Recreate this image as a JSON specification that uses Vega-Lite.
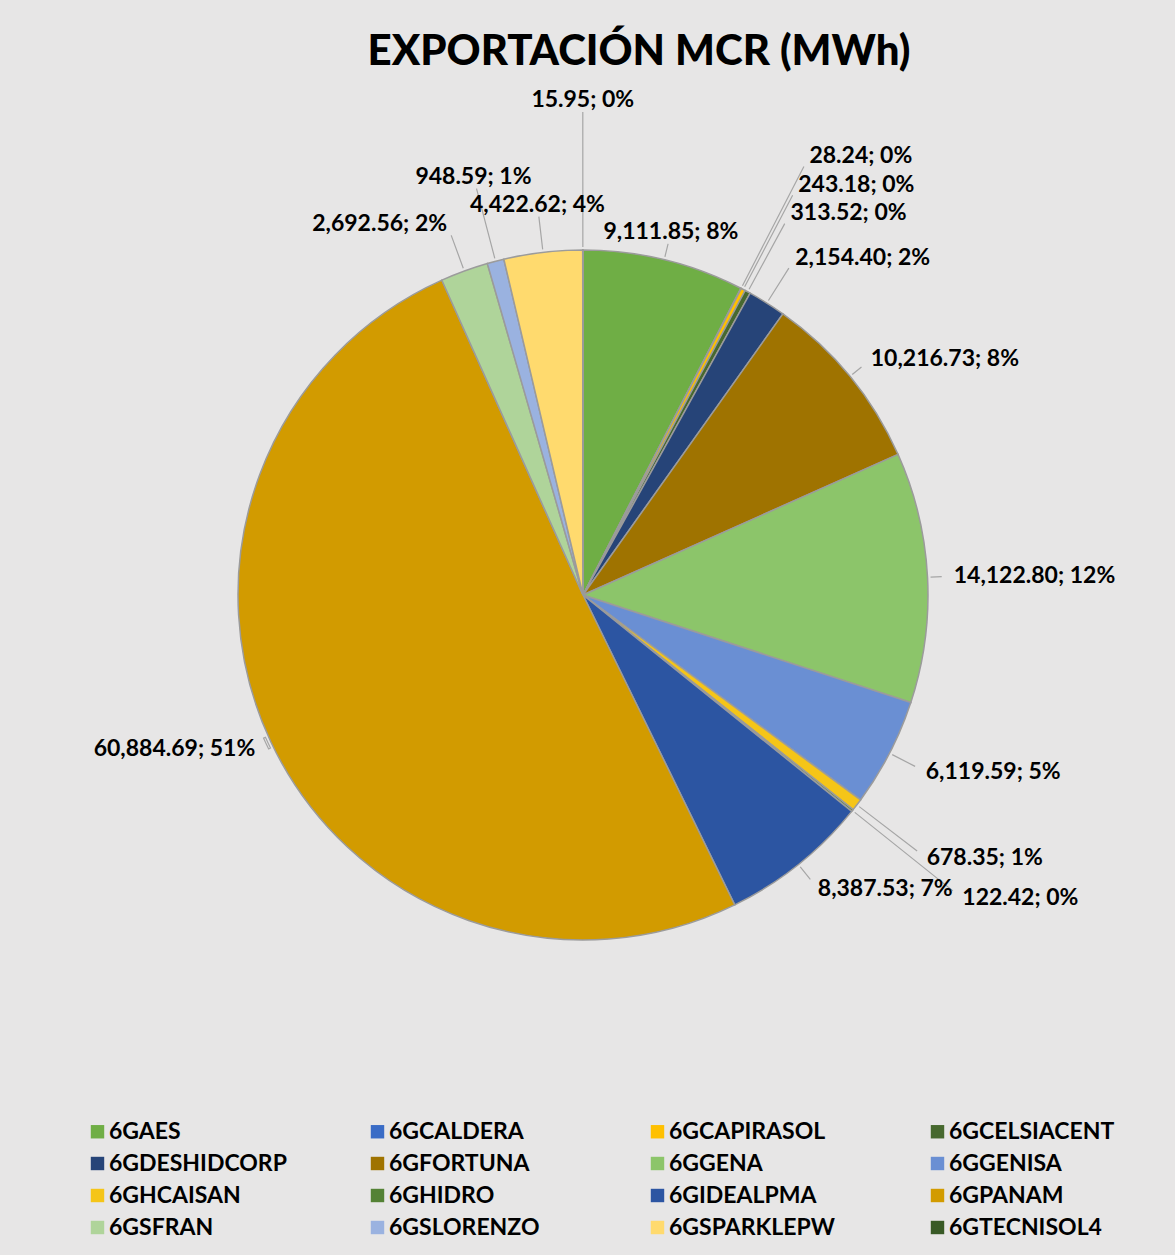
{
  "$schema": "https://vega.github.io/schema/vega-lite/v6.json",
  "width": 1166,
  "height": 990,
  "autosize": {"type": "none"},
  "padding": {"left": 0, "top": 100, "right": 9, "bottom": 165},
  "background": "#e7e6e6",
  "config": {"view": {"stroke": null}},
  "title": {
    "text": "EXPORTACIÓN MCR (MWh)",
    "font": "Lato",
    "fontSize": 42,
    "fontWeight": 900,
    "color": "#000000",
    "anchor": "middle",
    "dx": 56,
    "offset": 15
  },
  "data": {
    "values": [
      {"name": "6GAES", "value": 9111.85, "label": "9,111.85; 8%"},
      {"name": "6GCALDERA", "value": 28.24, "label": "28.24; 0%"},
      {"name": "6GCAPIRASOL", "value": 243.18, "label": "243.18; 0%"},
      {"name": "6GCELSIACENT", "value": 313.52, "label": "313.52; 0%"},
      {"name": "6GDESHIDCORP", "value": 2154.40, "label": "2,154.40; 2%"},
      {"name": "6GFORTUNA", "value": 10216.73, "label": "10,216.73; 8%"},
      {"name": "6GGENA", "value": 14122.80, "label": "14,122.80; 12%"},
      {"name": "6GGENISA", "value": 6119.59, "label": "6,119.59; 5%"},
      {"name": "6GHCAISAN", "value": 678.35, "label": "678.35; 1%"},
      {"name": "6GHIDRO", "value": 122.42, "label": "122.42; 0%"},
      {"name": "6GIDEALPMA", "value": 8387.53, "label": "8,387.53; 7%"},
      {"name": "6GPANAM", "value": 60884.69, "label": "60,884.69; 51%"},
      {"name": "6GSFRAN", "value": 2692.56, "label": "2,692.56; 2%"},
      {"name": "6GSLORENZO", "value": 948.59, "label": "948.59; 1%"},
      {"name": "6GSPARKLEPW", "value": 4422.62, "label": "4,422.62; 4%"},
      {"name": "6GTECNISOL4", "value": 15.95, "label": "15.95; 0%"}
    ]
  },
  "transform": [
    {"joinaggregate": [{"op": "sum", "field": "value", "as": "total"}]}
  ],
  "encoding": {
    "theta": {"field": "value", "type": "quantitative", "stack": true},
    "order": {"field": "name", "type": "ordinal", "sort": "ascending"},
    "detail": {"field": "name", "type": "nominal"}
  },
  "layer": [
    {
      "mark": {"type": "arc", "outerRadius": 345, "stroke": "#9b9b9b", "strokeWidth": 1.5},
      "encoding": {
        "color": {
          "field": "name",
          "type": "nominal",
          "scale": {
            "domain": ["6GAES", "6GCALDERA", "6GCAPIRASOL", "6GCELSIACENT", "6GDESHIDCORP", "6GFORTUNA", "6GGENA", "6GGENISA", "6GHCAISAN", "6GHIDRO", "6GIDEALPMA", "6GPANAM", "6GSFRAN", "6GSLORENZO", "6GSPARKLEPW", "6GTECNISOL4"],
            "range": ["#6fae45", "#3a6cc6", "#ffc000", "#47692f", "#264478", "#9f7300", "#8cc56a", "#6a8fd3", "#f5c518", "#548235", "#2c55a2", "#d29b00", "#afd49a", "#9ab2e0", "#ffda6e", "#395a26"]
          },
          "legend": {
            "orient": "none",
            "legendX": 86,
            "legendY": 1020,
            "direction": "horizontal",
            "columns": 4,
            "title": null,
            "labelFont": "Lato",
            "labelFontSize": 23,
            "labelFontWeight": "bold",
            "labelColor": "#000000",
            "labelLimit": 300,
            "labelOffset": 0,
            "symbolType": "square",
            "symbolSize": 180,
            "symbolStrokeWidth": 0,
            "columnPadding": 79,
            "rowPadding": 8,
            "gridAlign": "all",
            "padding": 0
          }
        }
      }
    },
    {
      "mark": {"type": "arc", "filled": false, "fill": null, "stroke": "#a6a6a6", "strokeWidth": 1.2, "padAngle": 3.14159, "innerRadius": 348, "radiusOffset": -12},
      "encoding": {
        "radius": {
          "field": "value",
          "type": "quantitative",
          "scale": {"type": "linear", "domain": [15, 30, 130, 245, 315, 1000, 2200, 2700, 4400, 9000, 10000, 60900], "range": [495, 494, 485, 463, 434, 432, 397, 395, 393, 373.5, 372, 362], "zero": false, "nice": false, "clamp": true}
        }
      }
    },
    {
      "mark": {
        "type": "text",
        "font": "Lato",
        "fontSize": 23,
        "fontWeight": "bold",
        "color": "#000000",
        "baseline": "middle",
        "align": {"expr": "sin(PI*(datum.value_start+datum.value_end)/datum.total) > 0.3 ? 'left' : (sin(PI*(datum.value_start+datum.value_end)/datum.total) < -0.3 ? 'right' : 'center')"}
      },
      "encoding": {
        "radius": {
          "field": "value",
          "type": "quantitative",
          "scale": {"type": "linear", "domain": [15, 30, 130, 245, 315, 1000, 2200, 2700, 4400, 9000, 10000, 60900], "range": [495, 494, 485, 463, 434, 432, 397, 395, 393, 373.5, 372, 362], "zero": false, "nice": false, "clamp": true}
        },
        "text": {"field": "label", "type": "nominal"}
      }
    }
  ]
}
